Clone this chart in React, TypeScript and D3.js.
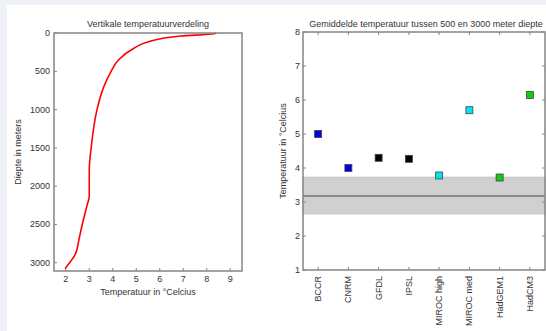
import React from 'react'
import * as d3 from 'd3'

// vertical profile (left panel)
const depths = [0, 10, 40, 120, 200, 350, 500, 700, 1000, 1450, 1800, 2130, 2270, 2530, 2700, 2880, 3075]
const temps = [8.4, 8.3, 6.9, 5.45, 4.9, 4.25, 3.93, 3.62, 3.33, 3.1, 3.0, 3.0, 2.89, 2.68, 2.56, 2.42, 1.97]
const depthTicks = [0, 500, 1000, 1500, 2000, 2500, 3000]
const tempTicks = [2, 3, 4, 5, 6, 7, 8, 9]

// model means (right panel)
const models = ['BCCR', 'CNRM', 'GFDL', 'IPSL', 'MIROC high', 'MIROC med', 'HadGEM1', 'HadCM3']
const modelTemps = [5.0, 4.0, 4.3, 4.27, 3.78, 5.7, 3.72, 6.15]
const modelColors = ['#0000ee', '#0000ee', '#000000', '#000000', '#00e5ee', '#00e5ee', '#11cc11', '#11cc11']
const obsMean = 3.18
const obsBand = [2.65, 3.73]
const meanTicks = [1, 2, 3, 4, 5, 6, 7, 8]

const font = '"Liberation Sans", Arial, sans-serif'
const frame = '#858585'
const txt = '#333'

export default function App() {
  // left panel
  const L = { left: 54, right: 242, top: 33, bottom: 271 }
  const x1 = d3.scaleLinear().domain([1.5, 9.5]).range([L.left, L.right])
  const y1 = d3.scaleLinear().domain([0, 3108]).range([L.top, L.bottom])
  const line = d3.line<number>()
    .x((d, i) => x1(temps[i]))
    .y((d) => y1(d))
    .curve(d3.curveMonotoneY)

  // right panel
  const R = { left: 303, right: 545, top: 32, bottom: 270 }
  const x2 = d3.scaleLinear().domain([0.5, models.length + 0.5]).range([R.left, R.right])
  const y2 = d3.scaleLinear().domain([1, 8]).range([R.bottom, R.top])

  return (
    <svg width={546} height={331} style={{ position: 'absolute', left: 0, top: 0, fontFamily: font }}>
      <rect width={546} height={331} fill="#fff" />
      <rect width={546} height={5} fill="#eef2f6" />
      <rect width={7} height={331} fill="#eef2f6" />

      {/* left panel */}
      <text x={(L.left + L.right) / 2} y={27} fontSize={9} textAnchor="middle" fill={txt}>Vertikale temperatuurverdeling</text>
      {depthTicks.map((d) => (
        <g key={d}>
          <line x1={L.left} x2={L.left + 3} y1={y1(d)} y2={y1(d)} stroke={frame} />
          <text x={L.left - 4} y={y1(d) + 3} fontSize={9} textAnchor="end" fill={txt}>{d}</text>
        </g>
      ))}
      {tempTicks.map((t) => (
        <g key={t}>
          <line x1={x1(t)} x2={x1(t)} y1={L.bottom} y2={L.bottom - 3} stroke={frame} />
          <text x={x1(t)} y={L.bottom + 11} fontSize={9} textAnchor="middle" fill={txt}>{t}</text>
        </g>
      ))}
      <path d={line(depths) || ''} fill="none" stroke="#ff0000" strokeWidth={1.6} />
      <rect x={L.left} y={L.top} width={L.right - L.left} height={L.bottom - L.top} fill="none" stroke={frame} strokeWidth={1.5} />
      <text x={(L.left + L.right) / 2} y={295} fontSize={9} textAnchor="middle" fill={txt}>Temperatuur in  °Celcius</text>
      <text transform={`translate(21,${(L.top + L.bottom) / 2}) rotate(-90)`} fontSize={9} textAnchor="middle" fill={txt}>Diepte in meters</text>

      {/* right panel */}
      <text x={426} y={27} fontSize={9} textAnchor="middle" fill={txt}>Gemiddelde temperatuur tussen 500 en 3000 meter diepte</text>
      <rect x={R.left} y={y2(obsBand[1])} width={R.right - R.left} height={y2(obsBand[0]) - y2(obsBand[1])} fill="#d0d0d0" stroke="#c4c4c4" />
      <line x1={R.left} x2={R.right} y1={y2(obsMean)} y2={y2(obsMean)} stroke="#8a8a8a" strokeWidth={2} />
      {meanTicks.map((t) => (
        <g key={t}>
          <line x1={R.left} x2={R.left + 3} y1={y2(t)} y2={y2(t)} stroke={frame} />
          <line x1={R.right} x2={R.right - 3} y1={y2(t)} y2={y2(t)} stroke={frame} />
          <text x={R.left - 3} y={y2(t) + 3} fontSize={9} textAnchor="end" fill={txt}>{t}</text>
        </g>
      ))}
      {models.map((m, i) => (
        <g key={m}>
          <line x1={x2(i + 1)} x2={x2(i + 1)} y1={R.bottom} y2={R.bottom - 3} stroke={frame} />
          <line x1={x2(i + 1)} x2={x2(i + 1)} y1={R.top} y2={R.top + 3} stroke={frame} />
          <text transform={`translate(${x2(i + 1) + 3},${R.bottom + 6}) rotate(-90)`} fontSize={9} textAnchor="end" fill={txt}>{m}</text>
          <rect x={x2(i + 1) - 3.5} y={y2(modelTemps[i]) - 3.5} width={7} height={7} fill={modelColors[i]} stroke="#444" strokeWidth={0.8} />
        </g>
      ))}
      <rect x={R.left} y={R.top} width={R.right - R.left} height={R.bottom - R.top} fill="none" stroke={frame} strokeWidth={1.5} />
      <text transform={`translate(286,${(R.top + R.bottom) / 2}) rotate(-90)`} fontSize={9} textAnchor="middle" fill={txt}>Temperatuur in °Celcius</text>
    </svg>
  )
}
